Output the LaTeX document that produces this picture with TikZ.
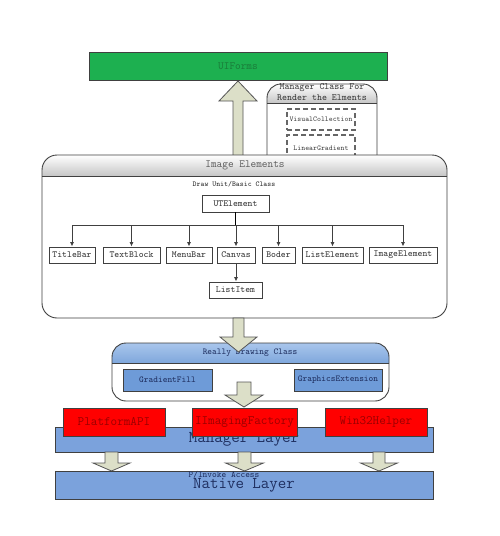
\documentclass[tikz,border=0pt]{standalone}
\usepackage{fontspec}
\usetikzlibrary{arrows.meta,calc}
\definecolor{uigreen}{HTML}{1DB050}
\definecolor{uigreentext}{HTML}{1A7A38}
\definecolor{arrowfill}{HTML}{DCDFC8}
\definecolor{arrowline}{HTML}{555555}
\definecolor{hdrblueA}{HTML}{A9C6EC}
\definecolor{hdrblueB}{HTML}{7FA7DC}
\definecolor{boxblue}{HTML}{6E9BD8}
\definecolor{layerblue}{HTML}{7BA2DC}
\definecolor{navytext}{HTML}{1F2F60}
\definecolor{redbox}{HTML}{FF0000}
\definecolor{redtext}{HTML}{9A0000}
\definecolor{linegray}{HTML}{404040}
\newcommand{\fsz}[1]{\fontsize{#1}{#1}\selectfont\ttfamily}
\newcommand{\blockarrow}[6]{% cx, shaft half, head half, ystart, yheadbase, ytip
  \draw[arrowshape] (#1-#2,#4) -- (#1-#2,#5) -- (#1-#3,#5) -- (#1,#6) -- (#1+#3,#5) -- (#1+#2,#5) -- (#1+#2,#4) -- cycle;}
\begin{document}
\begin{tikzpicture}[x=1pt,y=-1pt,
  arrowshape/.style={fill=arrowfill,draw=arrowline,line width=0.8pt,line join=miter},
  plainbox/.style={draw=linegray,line width=0.9pt,fill=white,inner sep=0pt,font=\fsz{9.3},text=black!80},
  dashbox/.style={draw=gray!80!black,line width=1.4pt,dash pattern=on 5pt off 3pt,fill=white,inner sep=0pt,font=\fsz{7.4},text=black!75},
  bluebox/.style={draw=linegray,line width=0.9pt,fill=boxblue,inner sep=0pt,font=\fsz{9},text=navytext},
  layerbox/.style={draw=linegray,line width=0.9pt,fill=layerblue,inner sep=0pt,font=\fsz{16.5},text=navytext},
  redbx/.style={draw=linegray,line width=0.6pt,fill=redbox,inner sep=0pt,font=\fsz{12.8},text=redtext},
  treeline/.style={draw=black!75,line width=0.9pt,-{Latex[length=4.5pt,width=4pt]}},
  labeltext/.style={inner sep=0pt}
]
\useasboundingbox (0,0) rectangle (499,536);
\fill[white] (0,0) rectangle (499,536);

% UIForms
\node[draw=linegray,line width=0.8pt,fill=uigreen,minimum width=298pt,minimum height=28pt,inner sep=0pt,font=\fsz{11},text=uigreentext] (uiforms) at (238,66) {UIForms};

% up arrow
\blockarrow{238}{5}{19}{160}{101}{81}

% Manager class box
\begin{scope}
  \clip[rounded corners=14pt] (267,84) rectangle (377,170);
  \fill[white] (267,84) rectangle (377,170);
  \shade[top color=white,bottom color=gray!45] (267,84) rectangle (377,103);
\end{scope}
\draw[linegray,line width=0.9pt,rounded corners=14pt] (267,84) rectangle (377,170);
\draw[linegray,line width=0.9pt] (267,103) -- (377,103);
\node[labeltext,font=\fsz{9.5},text=black!80,align=center] (mgrtitle) at (322,92) {Manager Class For\\[1pt]Render the Elments};
\node[dashbox,minimum width=68pt,minimum height=21pt] (visual) at (321,119.5) {VisualCollection};
\node[dashbox,minimum width=68pt,minimum height=27pt] (linear) at (321,148.5) {LinearGradient};

% Image Elements container
\begin{scope}
  \clip[rounded corners=15pt] (42,155) rectangle (447,318);
  \fill[white] (42,155) rectangle (447,318);
  \shade[top color=white,bottom color=gray!45] (42,155) rectangle (447,176);
\end{scope}
\draw[linegray,line width=0.9pt,rounded corners=15pt] (42,155) rectangle (447,318);
\draw[linegray,line width=0.9pt] (42,176) -- (447,176);
\node[labeltext,font=\fsz{11},text=black!65] (imgtitle) at (245,165.5) {Image Elements};
\node[labeltext,font=\fsz{7.4},text=black!85] (drawunit) at (234,184) {Draw Unit/Basic Class};

\node[plainbox,minimum width=67pt,minimum height=17pt] (ut) at (235.5,203.5) {UTElement};
\node[plainbox,minimum width=46pt,minimum height=16pt] (titlebar) at (72,255) {TitleBar};
\node[plainbox,minimum width=57pt,minimum height=16pt] (textblock) at (131.5,255) {TextBlock};
\node[plainbox,minimum width=46pt,minimum height=16pt] (menubar) at (189,255) {MenuBar};
\node[plainbox,minimum width=38pt,minimum height=16pt] (canvas) at (236,255) {Canvas};
\node[plainbox,minimum width=33pt,minimum height=16pt] (boder) at (278.5,255) {Boder};
\node[plainbox,minimum width=61pt,minimum height=16pt] (listelement) at (332.5,255) {ListElement};
\node[plainbox,minimum width=68pt,minimum height=16pt] (imageelement) at (403,255) {ImageElement};
\node[plainbox,minimum width=53pt,minimum height=16pt] (listitem) at (235.5,290) {ListItem};

\coordinate (bus) at (0,225);
\draw[black,line width=1.6pt] (ut.south) -- (ut.south |- bus);
\foreach \c in {titlebar,textblock,menubar,canvas,boder,listelement,imageelement}{
  \draw[treeline] (ut.south |- bus) -| (\c.north);
}
\draw[treeline] (canvas.south) -- (canvas.south |- listitem.north);

% Really Drawing Class container
\begin{scope}
  \clip[rounded corners=14pt] (112,343) rectangle (389,401);
  \fill[white] (112,343) rectangle (389,401);
  \shade[top color=hdrblueA,bottom color=hdrblueB] (112,343) rectangle (389,363);
\end{scope}
\draw[linegray,line width=0.9pt,rounded corners=14pt] (112,343) rectangle (389,401);
\draw[linegray,line width=0.9pt] (112,363) -- (389,363);
\node[labeltext,font=\fsz{9},text=navytext] (rdtitle) at (250,353) {Really Drawing Class};
\node[bluebox,minimum width=89pt,minimum height=22pt] (gradfill) at (167.5,380) {GradientFill};
\node[bluebox,minimum width=88pt,minimum height=22pt] (graphext) at (338,380) {GraphicsExtension};

% arrow Image Elements -> Really Drawing
\blockarrow{238.5}{5.5}{18.5}{318}{337}{352}
% arrow Really Drawing -> Manager Layer
\blockarrow{244}{7}{19}{382}{395}{407}

% Manager Layer
\node[layerbox,minimum width=378pt,minimum height=25pt] (mgrlayer) at (244,439.5) {\raisebox{-1.5pt}{Manager Layer}};
\node[redbx,minimum width=102pt,minimum height=28pt] (platform) at (114,422) {PlatformAPI};
\node[redbx,minimum width=105pt,minimum height=28pt] (imaging) at (244.5,422) {IImagingFactory};
\node[redbx,minimum width=102pt,minimum height=28pt] (win32) at (376,422) {Win32Helper};

% small arrows
\blockarrow{111.5}{6.5}{18.5}{452}{463}{471}
\blockarrow{244.5}{6.5}{19}{452}{463}{471}
\blockarrow{379}{6}{18.5}{452}{463}{471}

% Native Layer
\node[layerbox,minimum width=378pt,minimum height=28pt] (native) at (244,485) {Native Layer};
\node[labeltext,font=\fsz{9},text=navytext] (pinvoke) at (224,475) {P/Invoke Access};
\end{tikzpicture}
\end{document}
